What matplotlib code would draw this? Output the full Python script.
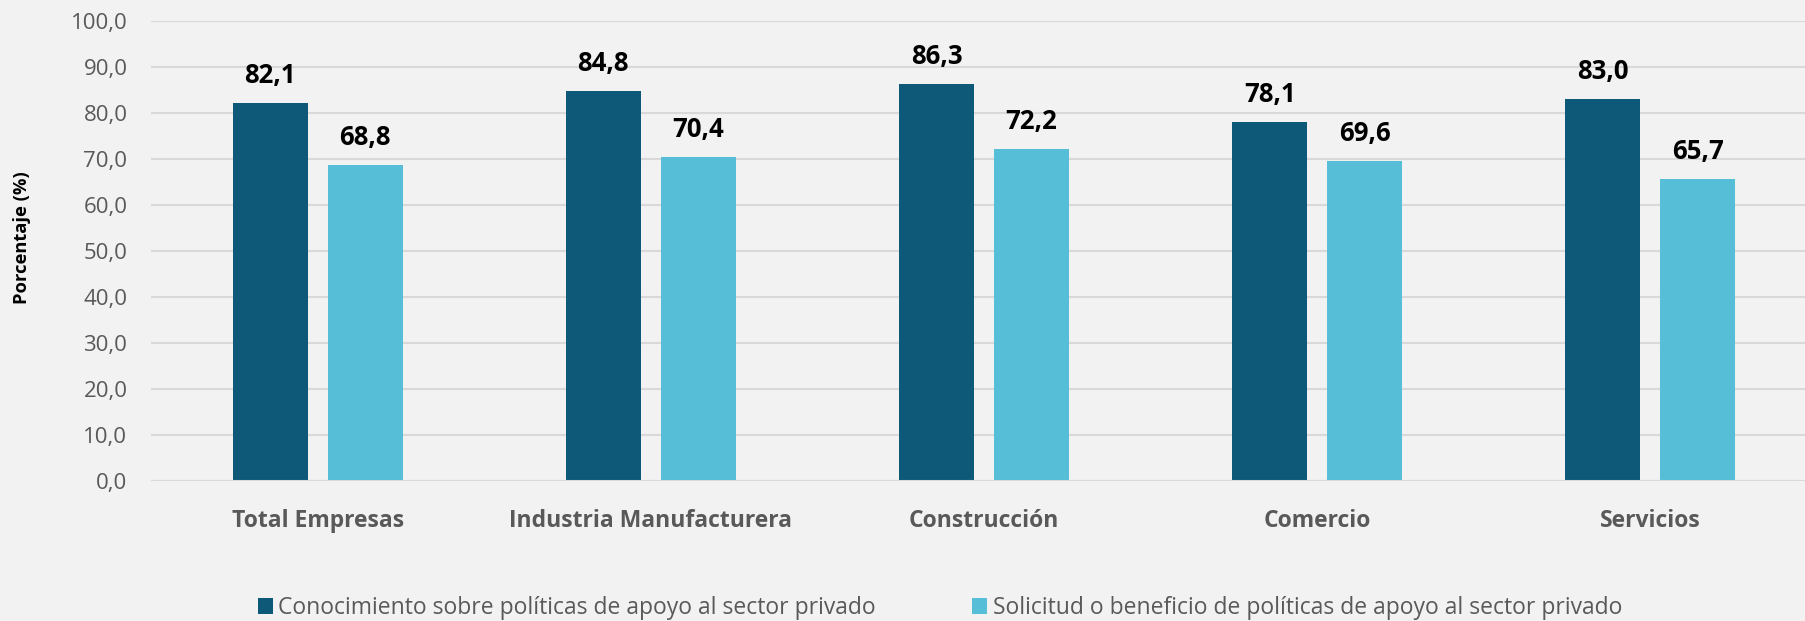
import matplotlib
matplotlib.use("Agg")
import matplotlib.pyplot as plt
import numpy as np
from matplotlib.patches import Patch

categories = ["Total Empresas", "Industria Manufacturera", "Construcción", "Comercio", "Servicios"]
conocimiento = [82.1, 84.8, 86.3, 78.1, 83.0]
solicitud = [68.8, 70.4, 72.2, 69.6, 65.7]
series_names = ["Conocimiento sobre políticas de apoyo al sector privado",
                "Solicitud o beneficio de políticas de apoyo al sector privado"]
yticks = [0, 10, 20, 30, 40, 50, 60, 70, 80, 90, 100]

c_dark = "#0E5878"
c_light = "#56BED6"
bg = "#F2F2F2"
grid_c = "#D9D9D9"
txt_gray = "#595959"

plt.rcParams['font.family'] = ['Open Sans', 'DejaVu Sans']

W, H = 1806, 621
fig = plt.figure(figsize=(W/100, H/100), dpi=100, facecolor=bg)
ax = fig.add_axes([151/W, 140/H, 1666/W, 460/H])
ax.set_facecolor(bg)

x = np.arange(len(categories))
bw = 0.225
off = 0.1426
b1 = ax.bar(x - off, conocimiento, bw, color=c_dark, zorder=3)
b2 = ax.bar(x + off, solicitud, bw, color=c_light, zorder=3)

for bars, vals in ((b1, conocimiento), (b2, solicitud)):
    for r, v in zip(bars, vals):
        ax.annotate(f"{v:.1f}".replace(".", ","), (r.get_x() + r.get_width()/2, v),
                    xytext=(0, 10), textcoords="offset points", ha="center", va="bottom",
                    fontsize=18.5, fontweight="bold", color="black")

ax.set_xlim(-0.5, len(categories) - 0.5)
ax.set_ylim(0, 100)
ax.set_yticks(yticks)
ax.set_yticklabels([f"{t:.1f}".replace(".", ",") for t in yticks], fontsize=16, color=txt_gray)
ax.set_xticks(x)
ax.set_xticklabels(categories, fontsize=16.5, fontweight="bold", color=txt_gray)
ax.tick_params(axis="both", length=0)
ax.tick_params(axis="y", pad=17)
ax.tick_params(axis="x", pad=20)
ax.grid(axis="y", color=grid_c, linewidth=1.5, zorder=0)
for s in ax.spines.values():
    s.set_visible(False)
ax.axhline(0, color=grid_c, linewidth=1.5, zorder=4)

fig.text(22/W, 1 - 238/H, "Porcentaje (%)", rotation=90, ha="center", va="center",
         fontsize=13.2, fontweight="bold", color="black")

handles = [Patch(facecolor=c_dark), Patch(facecolor=c_light)]
fig.legend(handles, series_names, loc="center", bbox_to_anchor=(940/W, 1 - 608/H),
           ncol=2, frameon=False, fontsize=16.5, labelcolor=txt_gray,
           handlelength=0.66, handleheight=0.66, handletextpad=0.25, columnspacing=4.2,
           borderpad=0, borderaxespad=0)

fig.savefig("out.png", dpi=100, facecolor=bg)
